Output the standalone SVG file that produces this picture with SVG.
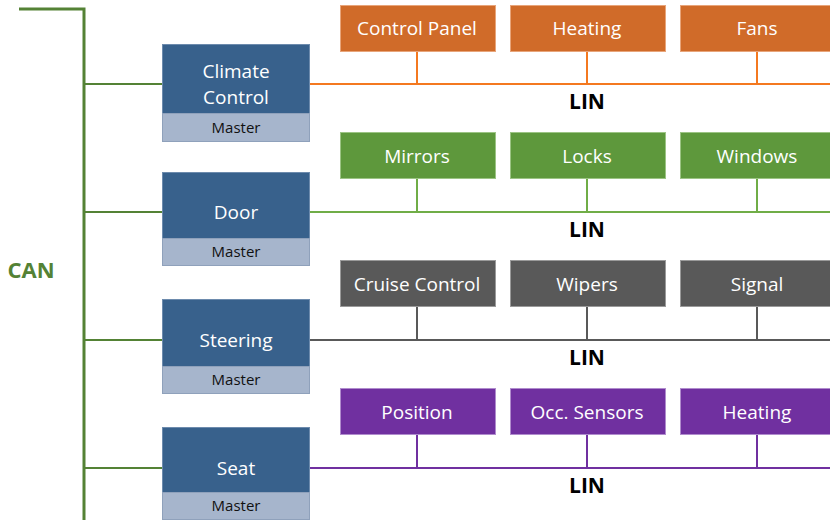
<svg xmlns="http://www.w3.org/2000/svg" width="830" height="520" viewBox="0 0 830 520">
  <style>
    .ecu { fill: #38618c; stroke: #6d8bad; stroke-width: 1; }
    .master { fill: #a6b5cc; stroke: #8fa1bb; stroke-width: 1; }
    .ecu-text { font-family: "Open Sans", "Noto Sans", sans-serif; font-size: 19px; fill: #ffffff; text-anchor: middle; }
    .master-text { font-family: "Open Sans", "Noto Sans", sans-serif; font-size: 15px; fill: #111111; text-anchor: middle; }
    .mod-text { font-family: "Open Sans", "Noto Sans", sans-serif; font-size: 19px; fill: #ffffff; text-anchor: middle; }
    .lin-text { font-family: "Open Sans", "Liberation Sans", sans-serif; font-size: 21px; font-weight: bold; fill: #000000; text-anchor: middle; }
    .can-text { font-family: "Open Sans", "Liberation Sans", sans-serif; font-size: 22px; font-weight: bold; fill: #548235; text-anchor: middle; }
    .orange { fill: #d06b29; stroke: #e8a57a; }
    .green { fill: #5e983c; stroke: #9cc484; }
    .gray { fill: #595959; stroke: #9a9a9a; }
    .purple { fill: #7030a0; stroke: #b08ccd; }
    .bus { fill: none; stroke-width: 2; }
    .backbone { fill: none; stroke-width: 3; }
    .can { stroke: #548235; }
    .lin-o { stroke: #f47920; }
    .lin-g { stroke: #70ad47; }
    .lin-k { stroke: #595959; }
    .lin-p { stroke: #7030a0; }
  </style>

  <!-- bus wiring -->
  <g id="connectors">
    <!-- CAN backbone -->
    <path class="backbone can" d="M19 9 H84 V520"/>
    <path class="bus can" d="M84 84 H162 M84 212 H162 M84 340 H162 M84 468 H162"/>
    <!-- LIN buses -->
    <path class="bus lin-o" d="M309 84 H830 M417 51 V84 M587 51 V84 M757 51 V84"/>
    <path class="bus lin-g" d="M309 212 H830 M417 179 V212 M587 179 V212 M757 179 V212"/>
    <path class="bus lin-k" d="M309 340 H830 M417 307 V340 M587 307 V340 M757 307 V340"/>
    <path class="bus lin-p" d="M309 468 H830 M417 435 V468 M587 435 V468 M757 435 V468"/>
  </g>

  <text class="can-text" x="31" y="278">CAN</text>
  <text class="lin-text" x="587" y="109">LIN</text>
  <text class="lin-text" x="587" y="237">LIN</text>
  <text class="lin-text" x="587" y="365">LIN</text>
  <text class="lin-text" x="587" y="493">LIN</text>

  <!-- master ECUs -->
  <g id="climate-control">
    <rect class="ecu" x="162.5" y="44.5" width="147" height="69"/>
    <rect class="master" x="162.5" y="113.5" width="147" height="28"/>
    <text class="ecu-text" x="236" y="78">Climate</text>
    <text class="ecu-text" x="236" y="104">Control</text>
    <text class="master-text" x="236" y="133">Master</text>
  </g>
  <g id="door">
    <rect class="ecu" x="162.5" y="172.5" width="147" height="66"/>
    <rect class="master" x="162.5" y="238.5" width="147" height="27"/>
    <text class="ecu-text" x="236" y="219">Door</text>
    <text class="master-text" x="236" y="257">Master</text>
  </g>
  <g id="steering">
    <rect class="ecu" x="162.5" y="299.5" width="147" height="67"/>
    <rect class="master" x="162.5" y="366.5" width="147" height="27"/>
    <text class="ecu-text" x="236" y="347">Steering</text>
    <text class="master-text" x="236" y="385">Master</text>
  </g>
  <g id="seat">
    <rect class="ecu" x="162.5" y="427.5" width="147" height="65"/>
    <rect class="master" x="162.5" y="492.5" width="147" height="27"/>
    <text class="ecu-text" x="236" y="475">Seat</text>
    <text class="master-text" x="236" y="511">Master</text>
  </g>

  <!-- climate LIN slaves -->
  <g id="control-panel"><rect class="orange" x="340.5" y="5.5" width="155" height="46"/><text class="mod-text" x="417" y="35">Control Panel</text></g>
  <g id="heating-climate"><rect class="orange" x="510.5" y="5.5" width="155" height="46"/><text class="mod-text" x="587" y="35">Heating</text></g>
  <g id="fans"><rect class="orange" x="680.5" y="5.5" width="160" height="46"/><text class="mod-text" x="757" y="35">Fans</text></g>

  <!-- door LIN slaves -->
  <g id="mirrors"><rect class="green" x="340.5" y="132.5" width="155" height="46"/><text class="mod-text" x="417" y="163">Mirrors</text></g>
  <g id="locks"><rect class="green" x="510.5" y="132.5" width="155" height="46"/><text class="mod-text" x="587" y="163">Locks</text></g>
  <g id="windows"><rect class="green" x="680.5" y="132.5" width="160" height="46"/><text class="mod-text" x="757" y="163">Windows</text></g>

  <!-- steering LIN slaves -->
  <g id="cruise-control"><rect class="gray" x="340.5" y="260.5" width="155" height="46"/><text class="mod-text" x="417" y="291">Cruise Control</text></g>
  <g id="wipers"><rect class="gray" x="510.5" y="260.5" width="155" height="46"/><text class="mod-text" x="587" y="291">Wipers</text></g>
  <g id="signal"><rect class="gray" x="680.5" y="260.5" width="160" height="46"/><text class="mod-text" x="757" y="291">Signal</text></g>

  <!-- seat LIN slaves -->
  <g id="position"><rect class="purple" x="340.5" y="388.5" width="155" height="46"/><text class="mod-text" x="417" y="419">Position</text></g>
  <g id="occ-sensors"><rect class="purple" x="510.5" y="388.5" width="155" height="46"/><text class="mod-text" x="587" y="419">Occ. Sensors</text></g>
  <g id="heating-seat"><rect class="purple" x="680.5" y="388.5" width="160" height="46"/><text class="mod-text" x="757" y="419">Heating</text></g>
</svg>
